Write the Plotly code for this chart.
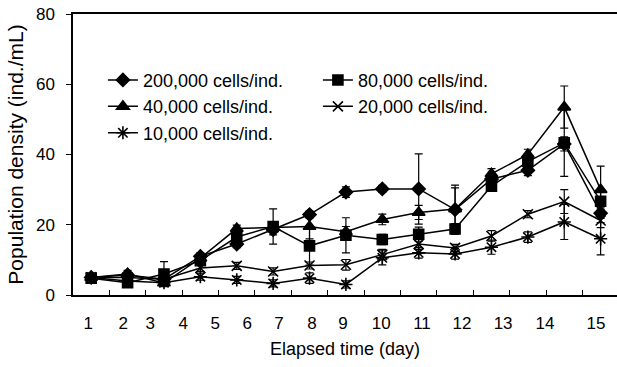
import plotly.graph_objects as go

# sampling occasions (equally spaced points on the chart)
sample = list(range(1, 16))
# day tick labels and where they sit along the sampling axis
day_labels = [str(d) for d in range(1, 16)]
day_label_pos = [0.92, 1.88, 2.62, 3.53, 4.41, 5.29, 6.16, 7.07, 7.92, 8.97,
                 10.09, 11.19, 12.32, 13.47, 14.87]

names = ["200,000 cells/ind.", "80,000 cells/ind.", "40,000 cells/ind.",
         "20,000 cells/ind.", "10,000 cells/ind."]

d200 = [5, 5.7, 4.5, 11, 14.5, 18.6, 22.9, 29.3, 30.2, 30.2, 24.3, 33, 35.5, 43, 23.3]
d80 = [4.8, 3.5, 6, 9.8, 16.5, 19.5, 14, 17, 15.8, 17.3, 18.8, 31, 38, 43.3, 26.7]
d40 = [5, 6, 3.4, 10.5, 18.9, 19.3, 19.5, 18, 21.5, 23.5, 24.5, 34.5, 40, 53.5, 30]
d20 = [5, 5, 4.5, 7.7, 8.3, 6.7, 8.4, 8.6, 11.5, 14.5, 13.4, 16.8, 23, 26.6, 21.2]
d10 = [5, 4, 3.5, 5.2, 4.3, 3.3, 4.8, 3, 10.6, 12, 11.7, 13.6, 16.5, 20.8, 16]

e200 = [0.5, 0.8, 1, 1, 1, 1.5, 1, 1.5, 1, 10, 7, 1.5, 1.5, 2, 1.5]
e80 = [0.5, 0.8, 3.5, 1, 1.5, 5, 5.5, 5, 1.5, 2, 1.5, 1.5, 1.5, 9.5, 2.5]
e40 = [0.5, 1, 1, 1, 1, 1.5, 3.5, 1.5, 1.5, 2, 6, 1.5, 1.5, 6, 6.7]
e20 = [0.5, 0.5, 0.5, 1, 1, 1, 1, 1.5, 1.5, 1.5, 1, 1.5, 1, 3.4, 2]
e10 = [0.5, 0.5, 0.5, 1, 1, 1, 1.5, 1, 2, 1.5, 1.5, 2, 1.5, 5, 4.6]

series = [d200, d80, d40, d20, d10]
errors = [e200, e80, e40, e20, e10]
symbols = ["diamond", "square", "triangle-up", "x-thin-open", "asterisk-open"]
sizes = [10, 10, 11, 10, 11]

FONT = "Liberation Sans, Arial, sans-serif"

fig = go.Figure()
for name, ys, es, sym, sz in zip(names, series, errors, symbols, sizes):
    fig.add_trace(go.Scatter(
        x=sample, y=ys, name=name, mode="lines+markers",
        line=dict(color="black", width=1.5),
        marker=dict(symbol=sym, size=sz, color="black",
                    line=dict(color="black", width=1.6)),
        error_y=dict(type="data", array=es, visible=True, color="black",
                     thickness=1.2, width=4),
    ))

fig.update_layout(
    width=617, height=367,
    margin=dict(l=73, r=0, t=14, b=72),
    paper_bgcolor="white", plot_bgcolor="white",
    font=dict(family=FONT, color="black", size=17),
    legend=dict(orientation="h", x=0.055, y=0.83, xanchor="left", yanchor="top",
                entrywidth=170, font=dict(size=18, family=FONT),
                bgcolor="rgba(0,0,0,0)", itemwidth=30),
    showlegend=True,
)
fig.update_xaxes(
    range=[0.5, 15.45], tickmode="array", tickvals=day_label_pos, ticktext=day_labels,
    ticks="", showline=True, linecolor="black", linewidth=1.5, mirror=True,
    showgrid=False, zeroline=False, ticklabelstandoff=12,
    minor=dict(tickvals=[i + 0.5 for i in range(1, 15)], ticks="inside",
               ticklen=5, tickcolor="black", tickwidth=1.2, showgrid=False),
    title=dict(text="Elapsed time (day)", font=dict(size=18, family=FONT), standoff=10),
    tickfont=dict(size=17),
)
fig.update_yaxes(
    range=[0, 80], tickvals=[0, 20, 40, 60, 80], ticks="outside", ticklen=5,
    tickcolor="black", tickwidth=1.2, showline=True, linecolor="black", linewidth=1.5,
    showgrid=False, zeroline=False, ticklabelstandoff=8,
    title=dict(text="Population density (ind./mL)", font=dict(size=21, family=FONT), standoff=7),
    tickfont=dict(size=17),
)

fig.write_html("out.html")
